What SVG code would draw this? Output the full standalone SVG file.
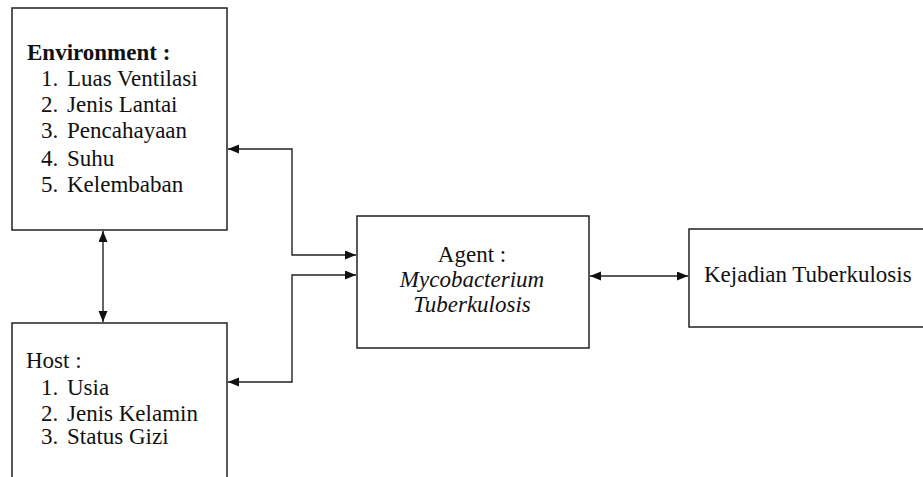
<svg xmlns="http://www.w3.org/2000/svg" width="923" height="477" viewBox="0 0 923 477">
<style>
.box{fill:#fff;stroke:#222;stroke-width:1.5}
.t{font-family:"Liberation Serif","Times New Roman",serif;font-size:23px;fill:#111}
.b{font-weight:bold}
.i{font-style:italic}
.c{text-anchor:middle}
.ln{fill:none;stroke:#222;stroke-width:1.4}
</style>
<defs>
<marker id="ah" markerUnits="userSpaceOnUse" markerWidth="12" markerHeight="10" refX="11" refY="4.5" orient="auto-start-reverse">
<path d="M0,0 L11,4.5 L0,9 z" fill="#111"/>
</marker>
</defs>
<rect width="923" height="477" fill="#fff"/>
<g id="environment">
<rect class="box" x="12" y="8" width="215" height="222"/>
<text class="t b" x="27" y="60">Environment :</text>
<text class="t" x="41" y="86">1.</text><text class="t" x="67" y="86">Luas Ventilasi</text>
<text class="t" x="41" y="112">2.</text><text class="t" x="67" y="112">Jenis Lantai</text>
<text class="t" x="41" y="138">3.</text><text class="t" x="67" y="138">Pencahayaan</text>
<text class="t" x="41" y="166">4.</text><text class="t" x="67" y="166">Suhu</text>
<text class="t" x="41" y="192">5.</text><text class="t" x="67" y="192">Kelembaban</text>
</g>
<g id="host">
<rect class="box" x="12" y="323" width="215" height="180"/>
<text class="t" x="26" y="368">Host :</text>
<text class="t" x="41" y="395">1.</text><text class="t" x="67" y="395">Usia</text>
<text class="t" x="41" y="421">2.</text><text class="t" x="67" y="421">Jenis Kelamin</text>
<text class="t" x="41" y="444">3.</text><text class="t" x="67" y="444">Status Gizi</text>
</g>
<g id="agent">
<rect class="box" x="357" y="216" width="232" height="132"/>
<text class="t c" x="472" y="262">Agent :</text>
<text class="t c i" x="472" y="287">Mycobacterium</text>
<text class="t c i" x="472" y="312">Tuberkulosis</text>
</g>
<g id="kejadian">
<rect class="box" x="689" y="229" width="250" height="98"/>
<text class="t" x="704" y="282">Kejadian Tuberkulosis</text>
</g>
<g id="connectors">
<line class="ln" x1="103" y1="231" x2="103" y2="322" marker-start="url(#ah)" marker-end="url(#ah)"/>
<polyline class="ln" points="228,149 292,149 292,255 356,255" marker-start="url(#ah)" marker-end="url(#ah)"/>
<polyline class="ln" points="356,275 292,275 292,382 228,382" marker-start="url(#ah)" marker-end="url(#ah)"/>
<line class="ln" x1="590" y1="276" x2="688" y2="276" marker-start="url(#ah)" marker-end="url(#ah)"/>
</g>
</svg>
